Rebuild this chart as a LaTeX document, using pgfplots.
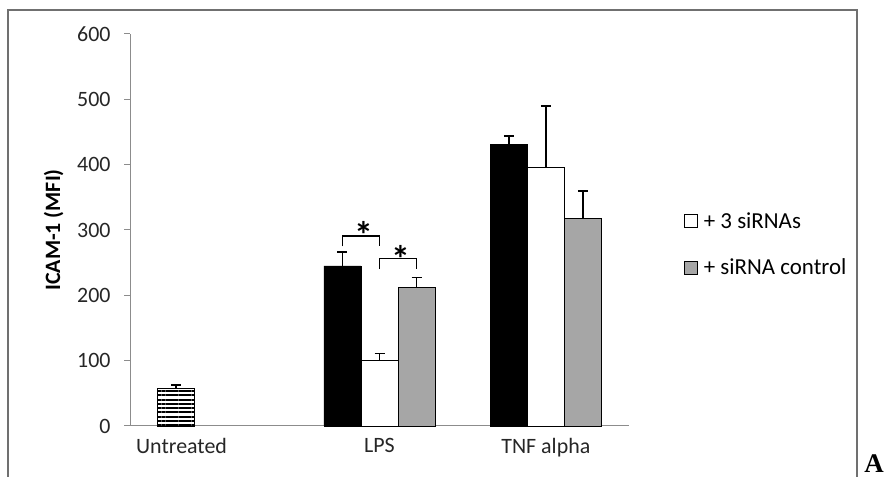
\documentclass[border=0pt]{standalone}
\usepackage{fontspec}
\setmainfont{Carlito}
\newfontfamily\serifA{Liberation Serif}
\usepackage{pgfplots}
\pgfplotsset{compat=1.18}
\usetikzlibrary{patterns.meta}
\definecolor{barGray}{HTML}{A6A6A6}
\definecolor{axGray}{HTML}{8C8C8C}
\begin{document}
\begin{tikzpicture}[x=1bp,y=1bp]
\useasboundingbox (0,0) rectangle (885,477);
\draw[axGray!80!black, line width=1.5bp] (8,0) -- (8,467) -- (857,467) -- (857,0);
\begin{axis}[
  at={(130bp,51bp)}, anchor=south west,
  scale only axis, width=499bp, height=392bp,
  xmin=-0.5, xmax=2.5, ymin=0, ymax=600,
  axis x line=bottom, axis y line=left,
  axis line style={-, axGray, line width=1bp},
  ytick={0,100,...,600},
  xtick={-0.19,1,2}, xticklabels={Untreated,LPS,TNF alpha},
  x tick style={draw=none},
  y tick style={axGray, line width=1bp},
  tick align=outside, major tick length=6bp,
  /pgf/number format/assume math mode=true,
  tick label style={font=\fontsize{22}{24}\selectfont, text=black!85},
  yticklabel style={xshift=-10bp},
  xticklabel style={yshift=-3bp},
  ylabel={\bfseries ICAM-1 (MFI)},
  ylabel style={at={(axis description cs:-0.153,0.5)}, anchor=center, font=\fontsize{22}{24}\selectfont},
  clip=false,
  legend style={at={(axis description cs:1.104,0.555)}, anchor=north west, draw=none, fill=none,
     row sep=25bp, font=\fontsize{23}{25}\selectfont, cells={anchor=west}},
  legend image code/.code={\draw[#1,line width=0.8bp] (0bp,-6.5bp) rectangle (13bp,6.5bp); \path (17bp,0bp);},
  error bars/y dir=plus, error bars/y explicit,
  error bars/error bar style={line width=1.5bp, black},
  error bars/error mark options={rotate=90, mark size=5bp, line width=1.5bp, black},
]
\addplot[ybar, bar width=37bp, draw=black, line width=0.8bp,
  pattern={Lines[angle=0,distance=4.3bp,line width=2bp]}, pattern color=black, forget plot]
  coordinates {(-0.2225,58) +- (0,5)};
\addplot[ybar, bar width=37bp, draw=black, fill=black, line width=0.8bp, forget plot]
  coordinates {(0.7775,245) +- (0,21) (1.7775,431) +- (0,13)};
\addplot[ybar, bar width=37bp, draw=black, fill=white, line width=0.8bp]
  coordinates {(1,101) +- (0,10) (2,396) +- (0,94)};
\addlegendentry{+ 3 siRNAs}
\addplot[ybar, bar width=37bp, draw=black, fill=barGray, line width=0.8bp]
  coordinates {(1.2225,212) +- (0,15) (2.2225,317) +- (0,43)};
\addlegendentry{+ siRNA control}
\draw[black, line width=1.5bp] (axis cs:0.777,275) -- (axis cs:0.777,291) -- (axis cs:1.0,291) -- (axis cs:1.0,275);
\draw[black, line width=1.5bp] (axis cs:1.0,240) -- (axis cs:1.0,256) -- (axis cs:1.223,256) -- (axis cs:1.223,240);
\node[font=\bfseries\fontsize{38}{38}\selectfont, inner sep=0pt] at (axis cs:0.904,293) {*};
\node[font=\bfseries\fontsize{38}{38}\selectfont, inner sep=0pt] at (axis cs:1.127,256) {*};
\end{axis}
\node[font=\serifA\bfseries\fontsize{27}{27}\selectfont, inner sep=0pt, anchor=south] at (874,4) {A};
\end{tikzpicture}
\end{document}
